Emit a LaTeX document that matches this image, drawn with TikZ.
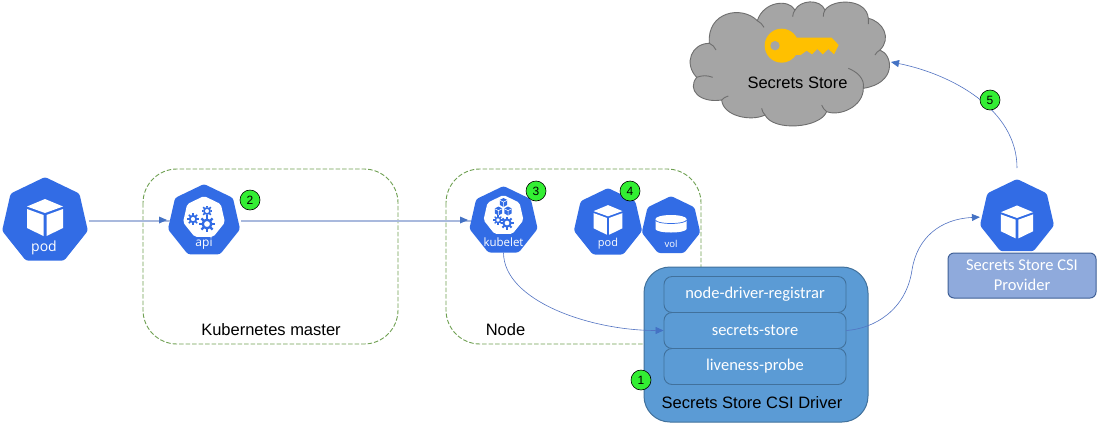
\documentclass[tikz,border=0pt]{standalone}
\usepackage{fontspec}
\setmainfont{Liberation Sans}
\newfontfamily\boxfont{Carlito}
\newfontfamily\hepfont{Open Sans}
\usetikzlibrary{shapes.geometric,arrows.meta}
\definecolor{kblue}{HTML}{326CE5}
\definecolor{flow}{HTML}{4472C4}
\definecolor{flowlight}{HTML}{A9B9DD}
\definecolor{flowthin}{HTML}{5273C2}
\definecolor{dashgreen}{HTML}{6FA052}
\definecolor{drv}{HTML}{5B9BD5}
\definecolor{drvline}{HTML}{41719C}
\definecolor{prov}{HTML}{8FAADC}
\definecolor{provline}{HTML}{3F5F96}
\definecolor{cloudfill}{HTML}{A5A5A5}
\definecolor{cloudline}{HTML}{6E6E6E}
\definecolor{keygold}{HTML}{FFC000}
\definecolor{badge}{HTML}{33EE33}
\tikzset{
  hept/.style={regular polygon,regular polygon sides=7,fill=kblue,draw=none,inner sep=0pt,outer sep=0pt,minimum size=2*#1 pt,rounded corners=2.5pt},
  whitehept/.style={regular polygon,regular polygon sides=7,fill=white,draw=none,inner sep=0pt,minimum size=2*#1 pt,rounded corners=2pt},
  heplabel/.style={text=white,font=\hepfont\fontsize{#1}{#1}\selectfont,inner sep=0pt},
  group/.style={draw=dashgreen,line width=0.9pt,dash pattern=on 4.5pt off 2pt,rounded corners=34pt,fill=none},
  driverbox/.style={draw=drvline,line width=1pt,fill=drv,rounded corners=26pt},
  innerbox/.style={draw=drvline,line width=0.9pt,fill=drv,rounded corners=8pt,text=white,font=\boxfont\fontsize{16.5}{18}\selectfont,minimum width=182pt,minimum height=36pt,inner sep=0pt},
  provbox/.style={draw=provline,line width=1pt,fill=prov,rounded corners=6pt,text=white,font=\boxfont\fontsize{16.5}{20}\selectfont,minimum width=148pt,minimum height=45pt,inner sep=0pt,align=center},
  numbadge/.style={circle,draw=black,line width=0.6pt,fill=badge,minimum size=20pt,inner sep=0pt,font=\fontsize{12}{12}\selectfont},
  caption/.style={inner sep=0pt,font=\fontsize{#1}{#1}\selectfont},
  flowarrow/.style={draw=flowthin,line width=0.6pt,-{Triangle[length=8pt,width=7pt,color=flow,fill=flow]}},
  flowstraight/.style={draw=flowlight,line width=1.1pt},
}
\newcommand\kcube[3]{%
  \begin{scope}[shift={(#1,#2)},scale=#3]
    \fill[white] (0,-18)--(18,-10.5)--(0,-4)--(-18,-10.5)--cycle;
    \fill[white] (-18,-8)--(-1.5,-2)--(-1.5,19)--(-18,11)--cycle;
    \fill[white] (18,-8)--(1.5,-2)--(1.5,19)--(18,11)--cycle;
  \end{scope}}
\newcommand\kgear[3]{%
  \begin{scope}[shift={(#1,#2)},scale=#3]
    \draw[kblue,line width=#3*0.4pt] (0,0) circle (0.72);
    \foreach \a in {0,45,...,315}{\draw[kblue,line width=#3*0.38pt] (\a:0.85)--(\a:1.3);}
  \end{scope}}
\newcommand\kminicube[2]{%
  \fill[kblue] (#1,#2-4.5)--(#1+3.6,#2-2.6)--(#1+3.6,#2+2.4)--(#1,#2+4.5)--(#1-3.6,#2+2.4)--(#1-3.6,#2-2.6)--cycle;
  \draw[white,line width=0.5pt] (#1-3.6,#2-2.2)--(#1,#2-0.4)--(#1+3.6,#2-2.2) (#1,#2-0.4)--(#1,#2+4.5);}
\begin{document}
\begin{tikzpicture}[x=1pt,y=-1pt]
\useasboundingbox (0,0) rectangle (1099,424);
\fill[white] (0,0) rectangle (1099,424);

% cloud
\begin{scope}[shift={(680,0)},x=0.3333pt,y=-0.3333pt]
  \draw[fill=cloudfill,draw=cloudline,line width=0.9pt]
    (50,232) .. controls (10,190) and (35,130) .. (88,130)
    .. controls (80,35) and (185,15) .. (232,62)
    .. controls (250,5) and (325,-5) .. (345,30)
    .. controls (360,0) and (420,-5) .. (435,30)
    .. controls (460,-5) and (560,-5) .. (565,55)
    .. controls (610,65) and (635,115) .. (600,150)
    .. controls (640,165) and (650,250) .. (550,265)
    .. controls (550,320) and (480,350) .. (440,335)
    .. controls (420,385) and (280,395) .. (255,345)
    .. controls (215,365) and (130,350) .. (125,300)
    .. controls (60,310) and (20,270) .. (50,232) -- cycle;
  \draw[cloudline,line width=0.9pt,fill=none]
    (50,232) to[bend left=20] (98,232)
    (88,130) to[bend left=20] (108,150)
    (232,62) to[bend left=15] (252,82)
    (345,30) to[bend right=15] (338,50)
    (435,30) to[bend right=15] (430,50)
    (565,55) to[bend left=15] (565,72)
    (600,150) to[bend right=15] (585,165)
    (550,265) .. controls (555,235) and (530,215) .. (505,205)
    (440,335) to[bend left=15] (425,315)
    (255,345) to[bend left=15] (245,325)
    (125,300) to[bend left=15] (145,288);
  % key
  \fill[keygold] (305,137) circle (51);
  \fill[keygold] (330,113)--(455,113)--(476,135)--(462,163)--(445,147)--(428,163)--(412,147)--(396,163)--(380,152)--(362,165)--(330,165)--cycle;
  \fill[cloudfill] (285,137) circle (14);
\end{scope}
\node[caption=16.5] (storelabel) at (797.5,82.5) {Secrets Store};
\coordinate (cloudedge) at (891,62);

% groups
\draw[group] (143,169) rectangle (398,344);
\draw[group] (446,169) rectangle (701,344);
\node[caption=16.5] (masterlabel) at (271,330) {Kubernetes master};
\node[caption=16.5] (nodelabel) at (505.5,330) {Node};

% heptagons
\node[hept=44] (pod) at (45,221) {};
\kcube{45}{217}{1}
\node[heplabel=14] (podtext) at (44,248) {pod};

\node[hept=37] (api) at (204,221) {};
\node[whitehept=21.5] (apiinner) at (204,217.5) {};
\kgear{207}{224}{6}
\kgear{193}{219}{4.5}
\kgear{207}{211}{4.2}
\node[heplabel=12] (apitext) at (204,244) {api};

\node[hept=35] (kubelet) at (503.5,221) {};
\node[whitehept=20.5] (kubeinner) at (503.5,215.5) {};
\kminicube{503.5}{202.5}
\kminicube{498.5}{211}
\kminicube{508}{211}
\kgear{498}{220}{3.6}
\kgear{507}{223}{5}
\node[heplabel=11.5] (kubetext) at (503.5,242) {kubelet};

\node[hept=35] (pod2) at (608,223) {};
\kcube{608}{219.5}{0.8}
\node[heplabel=11] (pod2text) at (608,244) {pod};

\node[hept=30] (vol) at (671,226) {};
\fill[white] (655.5,219) -- (655.5,229) arc[start angle=180,end angle=360,x radius=15.5,y radius=-3.5] -- (686.5,219) -- cycle;
\fill[white] (671,219) ellipse (15.5 and 4);
\draw[kblue,line width=0.7pt] (655.5,220) arc[start angle=180,end angle=360,x radius=15.5,y radius=-3.5];
\node[heplabel=9.5] (voltext) at (671,244) {vol};

\node[hept=38] (provhept) at (1017,217) {};
\kcube{1017}{221.5}{0.89}
\node[provbox] (provider) at (1022,275.5) {Secrets Store CSI\\Provider};

% driver
\draw[driverbox] (644,267) rectangle (868,422);
\node[innerbox] (registrar) at (755,294.5) {node-driver-registrar};
\node[innerbox] (store) at (755,330.5) {secrets-store};
\node[innerbox] (probe) at (755,366.5) {liveness-probe};
\node[caption=16.5] (driverlabel) at (752,403) {Secrets Store CSI Driver};

% connectors
\draw[flowstraight,shorten <=3pt] (pod) -- (api);
\fill[flow] (167,220) -- (159,216.5) -- (159,223.5) -- cycle;
\draw[flowstraight,shorten <=3pt] (api) -- (kubelet);
\fill[flow] (468,220) -- (460,216.5) -- (460,223.5) -- cycle;
\draw[flowarrow] (kubelet.south) .. controls +(0,48) and +(-74,0) .. (store.west);
\coordinate (provbend) at (912,270);
\draw[flowarrow,shorten >=2pt] (store.east) .. controls +(28,-2) and (906,310) .. (provbend) .. controls (917,238) and (940,219) .. (provhept.west);
\draw[flowarrow,shorten <=11pt] (provhept.north) .. controls +(0,-70) and +(60,12) .. (cloudedge);

% badges
\node[numbadge] (b2) at (250,200) {2};
\node[numbadge] (b3) at (536,191) {3};
\node[numbadge] (b4) at (630,191) {4};
\node[numbadge] (b1) at (641,380) {1};
\node[numbadge] (b5) at (990,100) {5};
\end{tikzpicture}
\end{document}
